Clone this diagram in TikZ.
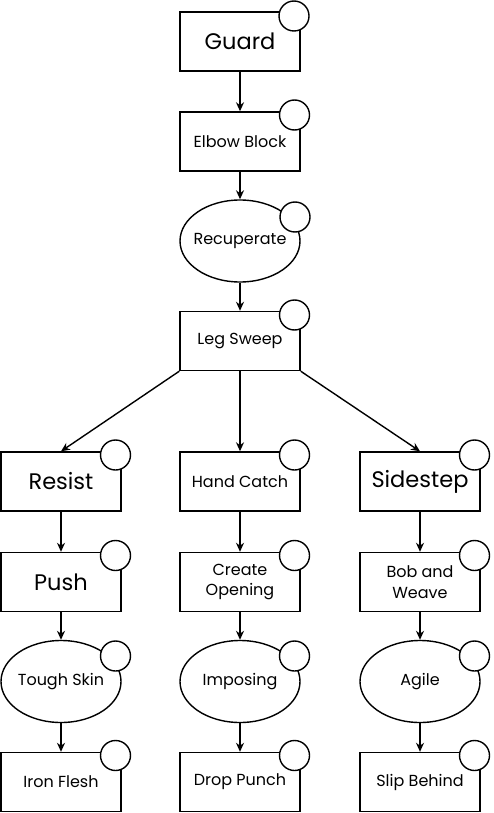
\documentclass[tikz,border=0pt]{standalone}
\usepackage{fontspec}
\setmainfont{Poppins}
\usetikzlibrary{arrows.meta,shapes.geometric}
\tikzset{
  box/.style={draw, line width=1.4pt, minimum width=120pt, minimum height=59pt, inner sep=2pt, align=center, font=\fontsize{16}{20.5}\selectfont},
  oval/.style={draw, ellipse, line width=1.4pt, minimum width=120pt, minimum height=82pt, inner xsep=-10pt, inner ysep=0pt, align=center, font=\fontsize{16}{20.5}\selectfont},
  big/.style={font=\fontsize{22.5}{26}\selectfont},
  knob/.style={draw, circle, fill=white, line width=1.4pt, minimum size=30pt, inner sep=0pt},
  arr/.style={-{Stealth[length=9pt,width=8pt]}, line width=1.4pt}
}
\begin{document}
\begin{tikzpicture}[x=1pt,y=-1pt]
\useasboundingbox (0,0) rectangle (493,813);
% top chain
\node[box, big, line width=2.4pt] (guard) at (240,41.5) {Guard};
\node[knob] (guardk) at (294,16) {};
\node[box] (elbow) at (240,141.5) {Elbow Block};
\node[knob] (elbowk) at (294.5,115) {};
\node[oval] (recup) at (240,241) {Recuperate};
\node[knob] (recupk) at (295,217) {};
\node[box] (leg) at (240,341) {Leg Sweep};
\node[knob] (legk) at (294.5,315) {};
% left column
\node[box, big] (resist) at (61,481.5) {Resist};
\node[knob] (resistk) at (115.5,455) {};
\node[box, big] (push) at (61,582) {Push};
\node[knob] (pushk) at (115.5,555.5) {};
\node[oval] (tough) at (61,681.5) {Tough Skin};
\node[knob] (toughk) at (115.5,656) {};
\node[box] (iron) at (61,782) {Iron Flesh};
\node[knob] (ironk) at (115.5,755.5) {};
% middle column
\node[box] (hand) at (240,481.5) {Hand Catch};
\node[knob] (handk) at (294.5,455) {};
\node[box] (create) at (240,582) {Create\\Opening};
\node[knob] (createk) at (294.5,555.5) {};
\node[oval] (impose) at (240,681.5) {Imposing};
\node[knob] (imposek) at (294.5,656) {};
\node[box] (drop) at (240,782) {Drop Punch};
\node[knob] (dropk) at (294.5,755.5) {};
% right column
\node[box, big] (side) at (420,481.5) {Sidestep};
\node[knob] (sidek) at (474.5,455) {};
\node[box] (bob) at (420,582) {Bob and\\Weave};
\node[knob] (bobk) at (474.5,555.5) {};
\node[oval] (agile) at (420,681.5) {Agile};
\node[knob] (agilek) at (474.5,656) {};
\node[box] (slip) at (420,782) {Slip Behind};
\node[knob] (slipk) at (474.5,755.5) {};
% connectors
\draw[arr] (guard) -- (elbow);
\draw[arr] (elbow) -- (recup);
\draw[arr] (recup) -- (leg);
\draw[arr] (leg.south west) -- (resist.north);
\draw[arr] (leg) -- (hand);
\draw[arr] (leg.south east) -- (side.north);
\draw[arr] (resist) -- (push);
\draw[arr] (push) -- (tough);
\draw[arr] (tough) -- (iron);
\draw[arr] (hand) -- (create);
\draw[arr] (create) -- (impose);
\draw[arr] (impose) -- (drop);
\draw[arr] (side) -- (bob);
\draw[arr] (bob) -- (agile);
\draw[arr] (agile) -- (slip);
\end{tikzpicture}
\end{document}
